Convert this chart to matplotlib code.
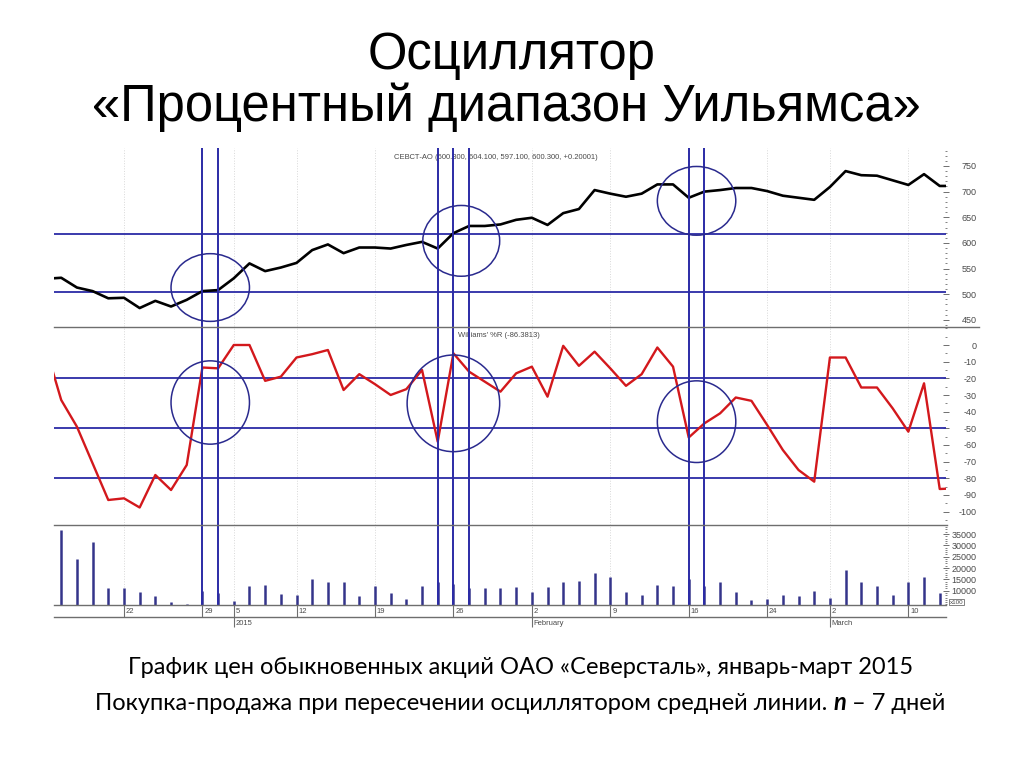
import numpy as np
import matplotlib
matplotlib.use("Agg")
import matplotlib.pyplot as plt
from matplotlib.patches import Ellipse
from matplotlib.lines import Line2D
from matplotlib.ticker import FixedLocator, MultipleLocator

# ==========================================
# Data (trading-day index, 0 = 16 Dec 2014)
# ==========================================

# close price, index -1 .. 57 (first and last are cut by the frame)
price = [530, 532, 513, 506, 492, 493, 473, 487, 476, 489,
         506, 508, 531, 560, 545, 552, 561, 586, 597, 580,
         591, 591, 589, 596, 602, 589, 619, 633, 633, 636,
         645, 649, 635, 658, 666, 703, 696, 690, 696, 714,
         714, 688, 700, 703, 707, 707, 701, 692, 688, 684,
         709, 740, 732, 731, 722, 713, 734, 711, 711]

# Williams %R, index -1 .. 57
williams = [-1, -33, -49, -71, -93, -92, -97.5, -78, -87, -72,
            -13.5, -14, 0, 0, -21.5, -19, -7.5, -5.5, -3, -27,
            -17.5, -23.5, -30, -26.5, -15, -58, -5, -16, -22, -28,
            -17, -13, -31, -0.5, -12.5, -4, -14, -24.5, -17.5, -1.5,
            -13, -55.5, -47, -41, -31.5, -33.5, -48, -63, -75, -82,
            -7.5, -7.5, -25.5, -25.5, -38, -52, -23, -86.4, -86]

# volume, index 0 .. 56
volume = [36800, 23900, 31600, 11100, 11300, 9600, 7700, 5200, 4000, 10000,
          9000, 5600, 12100, 12400, 8600, 8000, 15000, 13700, 14000, 7700,
          12200, 9100, 6400, 12100, 14000, 13000, 11000, 11100, 11100, 11800,
          9600, 11800, 14000, 14400, 17700, 16200, 9400, 8100, 12500, 12100,
          15000, 12000, 14000, 9600, 5900, 6400, 8100, 7700, 10000, 6700,
          19100, 13700, 12100, 8100, 14000, 15900, 9100]

week_ticks = [4, 9, 11, 15, 20, 25, 30, 35, 40, 45, 49, 54]
week_labels = ["22", "29", "5", "12", "19", "26", "2", "9", "16", "24", "2", "10"]
month_ticks = [11, 30, 49]
month_labels = ["2015", "February", "March"]

signal_days = [9, 10, 24, 25, 26, 40, 41]
price_levels = [618, 504]
wr_levels = [-20, -50, -80]

# (center day, center value, width in days, height in value units)
price_circles = [(9.5, 513, 5.0, 132), (25.5, 604, 4.9, 138), (40.5, 682, 5.0, 134)]
wr_circles = [(9.5, -34.5, 5.0, 50), (25.0, -35, 5.9, 58), (40.5, -46, 5.0, 49)]

price_ticks = [450, 500, 550, 600, 650, 700, 750]
wr_ticks = list(range(0, -101, -10))
vol_ticks = [10000, 15000, 20000, 25000, 30000, 35000]

# ==========================================
# Layout helpers
# ==========================================
W, H = 1024, 767
LEFT, RIGHT = 54, 946
BLUE = "#2b2ba6"
NAVY = "#2a2a8e"
GRAY = "#6e6e6e"
TXT = "#4a4a4a"

plt.rcParams["font.family"] = ["Liberation Sans", "DejaVu Sans"]


def rect(top, bottom):
    return [LEFT / W, 1 - bottom / H, (RIGHT - LEFT) / W, (bottom - top) / H]


def style_panel(ax, ticks, minor, label_fmt=str):
    ax.set_xlim(-0.46, 56.4)
    ax.set_xticks([])
    for s in ax.spines.values():
        s.set_visible(False)
    ax.yaxis.tick_right()
    ax.yaxis.set_major_locator(FixedLocator(ticks))
    ax.yaxis.set_minor_locator(MultipleLocator(minor))
    ax.set_yticklabels([label_fmt(t) for t in ticks])
    ax.tick_params(axis="y", which="major", direction="inout", length=4,
                   width=0.7, color=GRAY, pad=20, labelsize=6.5, labelcolor=TXT)
    ax.tick_params(axis="y", which="minor", direction="inout", length=2,
                   width=0.6, color=GRAY)
    plt.setp(ax.get_yticklabels(), ha="right")
    for d in week_ticks:
        ax.axvline(d, color="#d8d8d8", lw=0.7, ls=":", zorder=0)
    for d in signal_days:
        ax.axvline(d, color=BLUE, lw=1.4, zorder=4)


fig = plt.figure(figsize=(W / 100, H / 100), dpi=100)

day = np.arange(len(price)) - 1
vol_day = np.arange(len(volume))

# ---- price panel ----
ax_p = fig.add_axes(rect(148, 326))
ax_p.plot(day, price, color="black", lw=1.9, zorder=3)
ax_p.set_ylim(438, 785)
style_panel(ax_p, price_ticks, 10)
for lv in price_levels:
    ax_p.axhline(lv, color=BLUE, lw=1.3, zorder=2)
for cx, cy, w, h in price_circles:
    ax_p.add_patch(Ellipse((cx, cy), w, h, fill=False, ec=NAVY, lw=1.1, zorder=5))
ax_p.text(0.381, 0.945, "СЕВСТ-АО (600.300, 604.100, 597.100, 600.300, +0.20001)",
          transform=ax_p.transAxes, fontsize=5.5, color=TXT, va="center")

# ---- Williams %R panel ----
ax_w = fig.add_axes(rect(326, 525))
ax_w.plot(day, williams, color="#d3181c", lw=1.7, zorder=3)
ax_w.set_ylim(-108, 11.4)
style_panel(ax_w, wr_ticks, 5)
for lv in wr_levels:
    ax_w.axhline(lv, color=BLUE, lw=1.3, zorder=2)
for cx, cy, w, h in wr_circles:
    ax_w.add_patch(Ellipse((cx, cy), w, h, fill=False, ec=NAVY, lw=1.1, zorder=5))
ax_w.text(0.453, 0.95, "Williams' %R (-86.3813)", transform=ax_w.transAxes,
          fontsize=5.5, color=TXT, va="center")

# ---- volume panel ----
ax_v = fig.add_axes(rect(525, 605))
vol_floor, vol_top = 3700, 38970
ax_v.set_ylim(vol_floor, vol_top)
ax_v.vlines(vol_day, vol_floor, volume, color="#34348a", lw=1.8, zorder=3)
style_panel(ax_v, vol_ticks, 1000)
ax_v.text(1.004, 5000, "x100", transform=ax_v.get_yaxis_transform(), fontsize=4.5,
          color=TXT, va="center", ha="left",
          bbox=dict(boxstyle="square,pad=0.15", fc="white", ec=GRAY, lw=0.6))

# ---- date band ----
ax_d = fig.add_axes(rect(605, 617))
ax_d.set_xlim(-0.46, 56.4)
ax_d.set_ylim(0, 1)
ax_d.set_xticks([])
ax_d.set_yticks([])
for side in ["left", "right"]:
    ax_d.spines[side].set_visible(False)
for side in ["top", "bottom"]:
    ax_d.spines[side].set_color(GRAY)
    ax_d.spines[side].set_linewidth(1.0)
ax_d.vlines(week_ticks, 0, 1, color=GRAY, lw=0.8)
for d, lab in zip(week_ticks, week_labels):
    ax_d.text(d + 0.12, 0.45, lab, fontsize=5.5, color=TXT, va="center", ha="left")
ax_d.vlines(month_ticks, -0.85, 0, color=GRAY, lw=0.8, clip_on=False)
for d, lab in zip(month_ticks, month_labels):
    ax_d.text(d + 0.12, -0.55, lab, fontsize=5.5, color=TXT, va="center", ha="left")

# panel separators
fig.add_artist(Line2D([LEFT / W, 979 / W], [1 - 327 / H] * 2, color=GRAY, lw=1.0))
fig.add_artist(Line2D([LEFT / W, 947 / W], [1 - 525 / H] * 2, color=GRAY, lw=1.0))

# ==========================================
# Titles and caption
# ==========================================
fig.text(512 / W, 1 - 56 / H, "Осциллятор", ha="center", va="center", fontsize=36.5)
fig.text(506 / W, 1 - 107 / H, "«Процентный диапазон Уильямса»", ha="center",
         va="center", fontsize=36.5)

cap_font = ["Lato", "DejaVu Sans"]
fig.text(521 / W, 1 - 667 / H,
         "График цен обыкновенных акций ОАО «Северсталь», январь-март 2015",
         ha="center", va="center", fontsize=17, family=cap_font)

runs = [("Покупка-продажа при пересечении осциллятором средней линии. ", {}),
        ("n", {"fontweight": "bold", "fontstyle": "italic"}),
        (" – 7 дней", {})]
renderer = fig.canvas.get_renderer()
texts = [fig.text(0, 1 - 703 / H, s, va="center", fontsize=17, family=cap_font, **st)
         for s, st in runs]
widths = [t.get_window_extent(renderer).width for t in texts]
x = 520.5 - sum(widths) / 2
for t, w in zip(texts, widths):
    t.set_x(x / W)
    x += w

fig.savefig("out.png", dpi=100)
